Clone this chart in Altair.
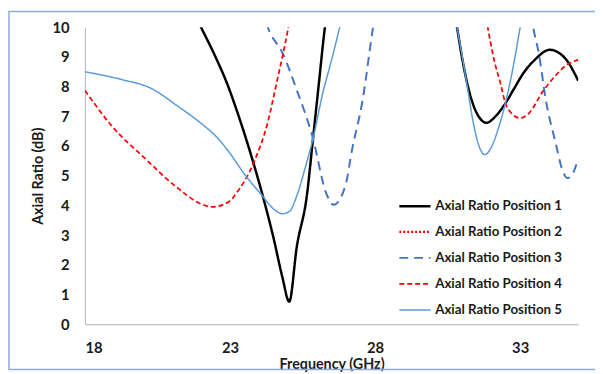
import altair as alt
import pandas as pd

names = ["Axial Ratio Position 1", "Axial Ratio Position 2", "Axial Ratio Position 3",
         "Axial Ratio Position 4", "Axial Ratio Position 5"]

# Position 1 (black solid)
p1_f = [21.8, 22.0, 22.5, 22.9, 23.3, 23.8, 24.12, 24.5, 24.8, 25.04, 25.3, 25.65, 25.86, 26.05, 26.27, 26.5,
        30.6, 30.82, 31.0, 31.2, 31.4, 31.6, 31.84, 32.1, 32.49, 32.8, 33.1, 33.5, 34.02, 34.56, 35.0]
p1_v = [10.4, 10.0, 9.0, 8.1, 7.0, 5.45, 4.35, 2.9, 1.6, 0.76, 2.6, 4.35, 6.25, 8.0, 10.0, 11.5,
        11.0, 10.0, 8.95, 8.0, 7.34, 6.95, 6.78, 6.95, 7.44, 7.95, 8.44, 8.9, 9.24, 8.94, 8.2]

# Position 2 (red dotted) - not visible in the plot area
p2_f = []
p2_v = []

# Position 3 (blue long dash)
p3_f = [24.1, 24.3, 24.84, 25.28, 25.86, 26.3, 26.57, 26.98, 27.2, 27.56, 27.93, 28.1,
        33.3, 33.45, 33.65, 33.88, 34.22, 34.45, 34.63, 34.8, 35.0]
p3_v = [10.6, 10.0, 9.07, 7.94, 6.25, 4.45, 4.02, 4.68, 5.85, 7.5, 10.0, 11.0,
        11.0, 10.0, 9.07, 7.57, 6.11, 5.2, 4.92, 5.05, 5.58]

# Position 4 (red dashed)
p4_f = [18.0, 18.92, 20.07, 21.2, 22.0, 22.39, 23.0, 23.17, 23.82, 24.3, 24.6, 25.0, 25.1,
        31.7, 31.88, 32.1, 32.32, 32.49, 32.7, 33.0, 33.3, 33.78, 34.2, 34.56, 35.0]
p4_v = [7.87, 6.68, 5.58, 4.58, 4.05, 3.95, 4.15, 4.35, 5.45, 6.8, 8.1, 9.95, 10.5,
        11.0, 10.0, 8.9, 8.1, 7.44, 7.1, 6.94, 7.1, 7.84, 8.35, 8.7, 8.9]

# Position 5 (light blue solid)
p5_f = [18.0, 19.26, 20.28, 21.2, 21.98, 22.56, 23.0, 23.5, 24.09, 24.5, 24.8, 25.05, 25.31, 25.6, 25.86,
        26.2, 26.5, 26.78, 27.0,
        30.6, 30.82, 31.16, 31.4, 31.6, 31.78, 32.0, 32.25, 32.49, 32.76, 33.0, 33.2]
p5_v = [8.5, 8.24, 7.94, 7.34, 6.78, 6.28, 5.75, 5.05, 4.35, 3.88, 3.72, 3.8, 4.35, 5.3, 6.25,
        7.8, 8.9, 10.0, 10.9,
        11.0, 10.0, 8.1, 6.7, 5.95, 5.71, 5.95, 6.6, 7.44, 8.67, 10.0, 11.0]

x_ticks = [18, 23, 28, 33]
y_ticks = list(range(0, 11))

colors = ["#000000", "#FF0000", "#4472C4", "#FF0000", "#5B9BD5"]
dashes = [[1, 0], [2, 2], [9, 6], [5, 3], [1, 0]]
widths = [2.5, 1.5, 2.5, 2.5, 1.75]

rows = []
for n, fs, vs in zip(names, [p1_f, p2_f, p3_f, p4_f, p5_f], [p1_v, p2_v, p3_v, p4_v, p5_v]):
    for i, (f, v) in enumerate(zip(fs, vs)):
        rows.append({"series": n, "freq": f, "ar": v, "order": i})
df = pd.DataFrame(rows)

lines = alt.Chart(df).mark_line(clip=True, interpolate="monotone").encode(
    x=alt.X("freq:Q", title="Frequency (GHz)",
            scale=alt.Scale(domain=[18, 35], nice=False, zero=False),
            axis=alt.Axis(values=x_ticks, labelPadding=17, titlePadding=2)),
    y=alt.Y("ar:Q", title="Axial Ratio (dB)",
            scale=alt.Scale(domain=[0, 10], nice=False),
            axis=alt.Axis(values=y_ticks, labelPadding=16, titlePadding=7)),
    color=alt.Color("series:N", scale=alt.Scale(domain=names, range=colors),
                    legend=alt.Legend(title=None, orient="none", legendX=317, legendY=164,
                                      symbolType="stroke", symbolSize=1000,
                                      labelFont="Lato", labelFontSize=13.5, labelFontWeight="bold",
                                      labelColor="#1a1a1a", rowPadding=2.4, labelOffset=3,
                                      padding=0)),
    strokeDash=alt.StrokeDash("series:N", scale=alt.Scale(domain=names, range=dashes), legend=None),
    strokeWidth=alt.StrokeWidth("series:N", scale=alt.Scale(domain=names, range=widths), legend=None),
    detail="series:N",
    order="order:Q",
)

frame = alt.Chart(pd.DataFrame({"a": [0]})).mark_rect(
    filled=False, stroke="#8FAADC", strokeWidth=1.5, clip=False
).encode(
    x=alt.value(-77), x2=alt.value(530), y=alt.value(-16), y2=alt.value(347)
)

chart = alt.layer(frame, lines).properties(
    width=500, height=301,
    autosize=alt.AutoSizeParams(type="none"),
    padding={"left": 78, "top": 17, "right": 17, "bottom": 48},
).configure_view(stroke=None).configure_axis(
    grid=False, ticks=False, domainColor="#BFBFBF", domainWidth=1.2,
    labelFont="Lato", labelFontSize=15, labelFontWeight="bold", labelColor="#1a1a1a",
    titleFont="Lato", titleFontSize=14.5, titleFontWeight="bold", titleColor="#1a1a1a",
)

chart.save("out.html", embed_options={"renderer": "svg", "actions": False})
